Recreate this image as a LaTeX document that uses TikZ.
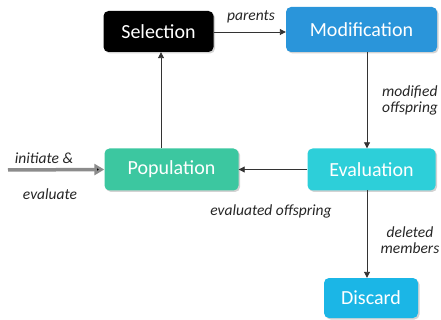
\documentclass[tikz,border=0pt]{standalone}
\usepackage{fontspec}
\setmainfont{Carlito}
\usetikzlibrary{arrows.meta,shadows}
\definecolor{modc}{HTML}{2A95DA}
\definecolor{popc}{HTML}{3CC7A0}
\definecolor{evac}{HTML}{2DCFD9}
\definecolor{disc}{HTML}{1BB6E6}
\begin{document}
\begin{tikzpicture}[x=1pt,y=-1pt,
  box/.style={rectangle,rounded corners=5pt,text=white,font=\fontsize{20}{22}\selectfont,
    inner sep=0pt,drop shadow={shadow xshift=1.5pt,shadow yshift=-1.5pt,opacity=0.35}},
  lab/.style={font=\fontsize{15.5}{16}\selectfont\itshape,text=black!85,inner sep=0pt},
  conn/.style={draw=black!80,line width=0.9pt,-{Triangle[length=6pt,width=6pt]}}]
\useasboundingbox (0,0) rectangle (441,320);
\node[box,fill=black,minimum width=110pt,minimum height=41pt] (sel) at (158.5,31.5) {Selection};
\node[box,fill=modc,minimum width=151pt,minimum height=45pt] (mod) at (361.5,29.5) {Modification};
\node[box,fill=popc,minimum width=134pt,minimum height=42pt] (pop) at (171.5,169.5) {Population};
\node[box,fill=evac,minimum width=128pt,minimum height=42pt] (eva) at (371.5,169.5) {Evaluation};
\node[box,fill=disc,minimum width=94pt,minimum height=40pt] (dis) at (371,298) {Discard};
\coordinate (start) at (8,170);
\draw[conn] (sel.east |- 0,32) -- (mod.west |- 0,32);
\node[lab] at (251,17) {parents};
\draw[conn] (367,52) coordinate (m1) -- (m1 |- eva.north);
\node[lab,align=left,anchor=west,font=\fontsize{15.5}{16}\selectfont\itshape] at (382,100) {modified\\offspring};
\draw[conn] (eva.west) -- (pop.east);
\node[lab] at (271,211) {evaluated offspring};
\draw[conn] (pop.north -| 161,0) coordinate (p1) -- (p1 |- sel.south);
\draw[conn] (367,190) coordinate (e1) -- (e1 |- dis.north);
\node[lab,align=center,font=\fontsize{15.5}{16}\selectfont\itshape] at (410,240) {deleted\\members};
\draw[draw=black!45,line width=3.5pt,-{Triangle[length=10pt,width=11pt,fill=black]}] (start) -- (pop.west);
\node[lab] at (44,158) {initiate \&};
\node[lab] at (50,194) {evaluate};
\end{tikzpicture}
\end{document}
